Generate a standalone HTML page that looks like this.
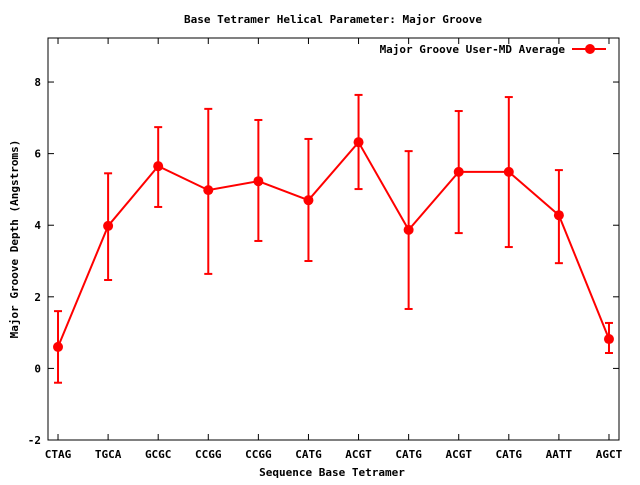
<!DOCTYPE html>
<html><head><meta charset="utf-8"><style>body{margin:0;background:#fff}svg text{font-family:"DejaVu Sans Mono","Liberation Mono",monospace;font-size:11px;font-weight:bold}</style></head>
<body>
<svg id="c" width="640" height="480" xmlns="http://www.w3.org/2000/svg">
<text x="333" y="23" text-anchor="middle">Base Tetramer Helical Parameter: Major Groove</text>
<text x="332" y="476" text-anchor="middle">Sequence Base Tetramer</text>
<text transform="translate(18,239) rotate(-90)" text-anchor="middle">Major Groove Depth (Angstroms)</text>
<g id="ax"></g><g id="marks"></g>
<rect x="48" y="38" width="571" height="402" fill="none" stroke="#000" stroke-width="1"/>
<g>
<text x="565" y="53" text-anchor="end">Major Groove User-MD Average</text>
<line x1="572" y1="49" x2="606" y2="49" stroke="#f00" stroke-width="2"/>
<circle cx="590" cy="49" r="5" fill="#f00"/>
</g>
</svg>
<script>
const categories=["CTAG","TGCA","GCGC","CCGG","CCGG","CATG","ACGT","CATG","ACGT","CATG","AATT","AGCT"];
const means=[0.6,3.98,5.65,4.98,5.23,4.70,6.32,3.87,5.49,5.49,4.28,0.82];
const upper=[1.6,5.45,6.74,7.25,6.94,6.41,7.64,6.07,7.19,7.58,5.54,1.27];
const lower=[-0.4,2.47,4.51,2.64,3.56,3.0,5.01,1.66,3.78,3.39,2.94,0.43];
const yTicks=[-2,0,2,4,6,8];
const NS="http://www.w3.org/2000/svg";
const L=48,R=619,T=38,B=440;
const xMin=-0.2,xMax=11.2,yMin=-2,yMax=9.23;
const sx=i=>L+(i-xMin)/(xMax-xMin)*(R-L);
const sy=v=>B-(v-yMin)/(yMax-yMin)*(B-T);
function mk(tag,at,parent){const e=document.createElementNS(NS,tag);for(const k in at)e.setAttribute(k,at[k]);parent.appendChild(e);return e;}
const ax=document.getElementById('ax'),mg=document.getElementById('marks');
yTicks.forEach(v=>{const y=sy(v);
 let t=mk('line',{x1:L,x2:L+6,y1:y,y2:y,stroke:'#000'},ax);
 t=mk('line',{x1:R-6,x2:R,y1:y,y2:y,stroke:'#000'},ax);
 const tx=mk('text',{x:L-7,y:y+4,'text-anchor':'end'},ax);tx.textContent=v;});
categories.forEach((c,i)=>{const x=sx(i);
 let t=mk('line',{x1:x,x2:x,y1:B,y2:B-6,stroke:'#000'},ax);
 t=mk('line',{x1:x,x2:x,y1:T,y2:T+6,stroke:'#000'},ax);
 const tx=mk('text',{x:x,y:B+18,'text-anchor':'middle'},ax);tx.textContent=c;});
const pl=mk('polyline',{points:means.map((v,i)=>sx(i)+','+sy(v)).join(' '),fill:'none',stroke:'#f00','stroke-width':2},mg);

means.forEach((v,i)=>{const x=sx(i),yu=sy(upper[i]),yl=sy(lower[i]);
 const g=mk('g',{stroke:'#f00','stroke-width':2},mg);
 mk('line',{x1:x,x2:x,y1:yu,y2:yl},g);mk('line',{x1:x-4,x2:x+4,y1:yu,y2:yu},g);mk('line',{x1:x-4,x2:x+4,y1:yl,y2:yl},g);
 const p=mk('circle',{cx:x,cy:sy(v),r:5,fill:'#f00'},mg);});
</script>
</body></html>
